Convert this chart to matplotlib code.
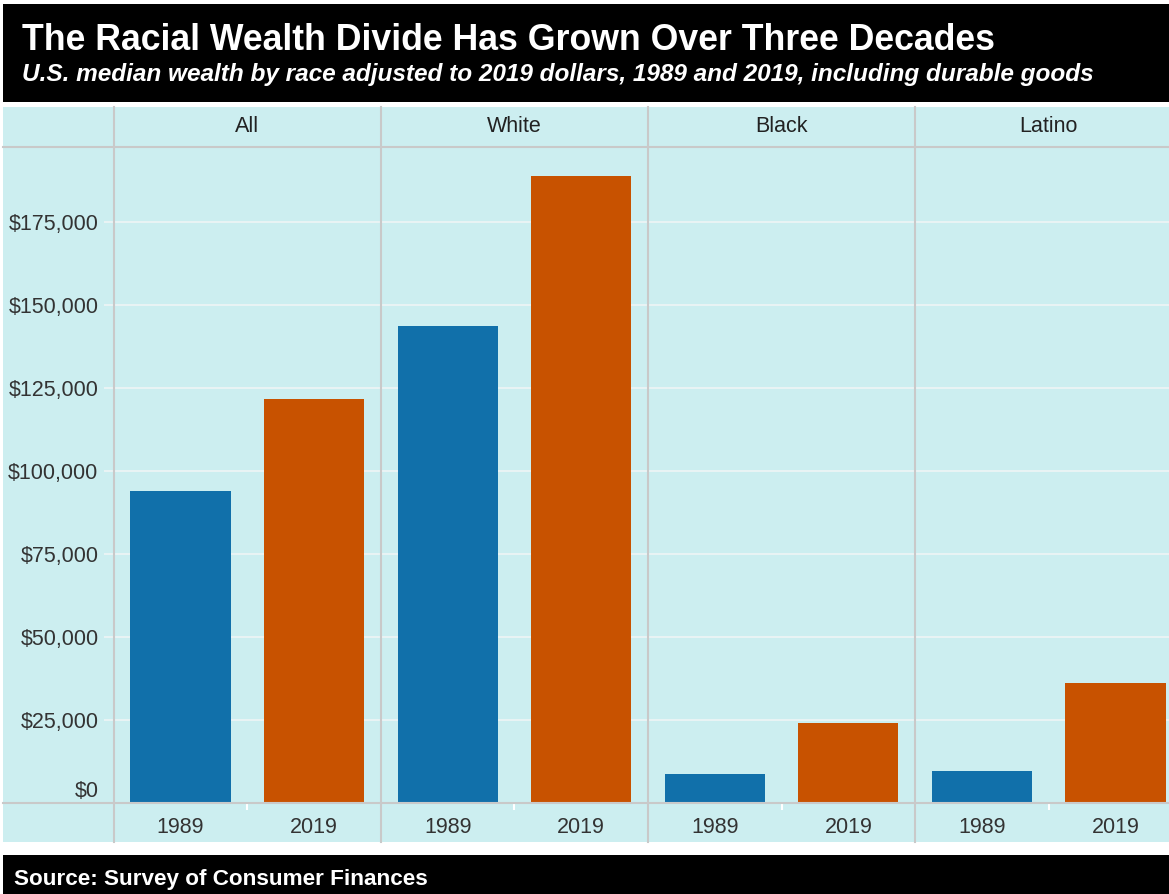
import matplotlib
matplotlib.use("Agg")
import matplotlib.pyplot as plt
from matplotlib.patches import Rectangle
from matplotlib.lines import Line2D
from matplotlib.ticker import FuncFormatter
from matplotlib.transforms import ScaledTranslation

# data (median wealth, 2019 dollars)
GROUPS = ["All", "White", "Black", "Latino"]
YEARS = ["1989", "2019"]
WEALTH_1989 = [94000, 143800, 8600, 9700]
WEALTH_2019 = [121700, 188900, 24100, 36000]
Y_TICKS = [0, 25000, 50000, 75000, 100000, 125000, 150000, 175000]

TITLE = "The Racial Wealth Divide Has Grown Over Three Decades"
SUBTITLE = ("U.S. median wealth by race adjusted to 2019 dollars, 1989 and 2019, "
            "including durable goods")
SOURCE = "Source: Survey of Consumer Finances"

BLUE = "#1170aa"
ORANGE = "#c85200"
BG = "#cceef0"
GRID = "#eef5f6"
RULE = "#c9c9c9"
TXT = "#333333"

W, H = 1169, 894
plt.rcParams["font.family"] = ["Liberation Sans", "DejaVu Sans"]


def fx(x):
    return x / W


def fy(y):
    return 1 - y / H


fig = plt.figure(figsize=(W / 100, H / 100), dpi=100)
fig.patch.set_facecolor("white")

# bands (kept under the axes)
for (yt, yb, col) in [(4, 102, "black"), (107, 842, BG), (855, H, "black")]:
    fig.add_artist(Rectangle((fx(3), fy(yb)), fx(W - 3), (yb - yt) / H,
                             transform=fig.transFigure, facecolor=col,
                             edgecolor="none", zorder=-10))

fig.text(fx(22), fy(50), TITLE, color="white", fontsize=25.7, fontweight="bold", va="baseline")
fig.text(fx(22), fy(81), SUBTITLE, color="white", fontsize=17.55, fontweight="bold",
         fontstyle="italic", va="baseline")
fig.text(fx(14), fy(885), SOURCE, color="white", fontsize=16.2, fontweight="bold", va="baseline")

# panels
left0, pw = 113.8, 267.1
base, top = 802.7, 146.7
ymax = (base - top) / 82.9 * 25000

for i, g in enumerate(GROUPS):
    x0 = left0 + i * pw
    ax = fig.add_axes([fx(x0), fy(base), fx(pw), (base - top) / H])
    ax.set_facecolor("none")
    ax.bar([0, 1], [WEALTH_1989[i], WEALTH_2019[i]], width=0.75,
           color=[BLUE, ORANGE], zorder=3)
    ax.set_xlim(-0.5, 1.5)
    ax.set_ylim(0, ymax)
    ax.set_yticks(Y_TICKS)
    ax.yaxis.grid(True, color=GRID, lw=1.2, zorder=0)
    ax.set_axisbelow(True)
    for s in ax.spines.values():
        s.set_visible(False)
    ax.set_xticks([0, 1])
    ax.set_xticklabels(YEARS, fontsize=15.5, color=TXT)
    ax.tick_params(axis="x", length=0, pad=10)
    ax.set_xticks([0.5], minor=True)
    ax.tick_params(axis="x", which="minor", length=5, width=1.5, color="white")
    if i == 0:
        ax.yaxis.set_major_formatter(FuncFormatter(lambda v, p: f"${v:,.0f}"))
        ax.tick_params(axis="y", length=7, width=1.2, color=GRID, pad=4,
                       labelsize=15.5, labelcolor=TXT)
        zero_lab = ax.get_yticklabels()[0]
        zero_lab.set_transform(zero_lab.get_transform()
                               + ScaledTranslation(0, 0.14, fig.dpi_scale_trans))
    else:
        ax.tick_params(axis="y", length=0, labelleft=False)
    fig.text(fx(x0 + pw / 2), fy(127), g, fontsize=15.5, color="#222222",
             ha="center", va="center")

# rules: strip bottom, baseline, panel dividers
for y in (top, base):
    fig.add_artist(Line2D([fx(3), 1], [fy(y), fy(y)], transform=fig.transFigure,
                          color=RULE, lw=1.5, zorder=5))
for i in range(len(GROUPS)):
    x = left0 + i * pw
    fig.add_artist(Line2D([fx(x), fx(x)], [fy(107), fy(842)], transform=fig.transFigure,
                          color=RULE, lw=1.5, zorder=5))

fig.savefig("out.png", dpi=100)
